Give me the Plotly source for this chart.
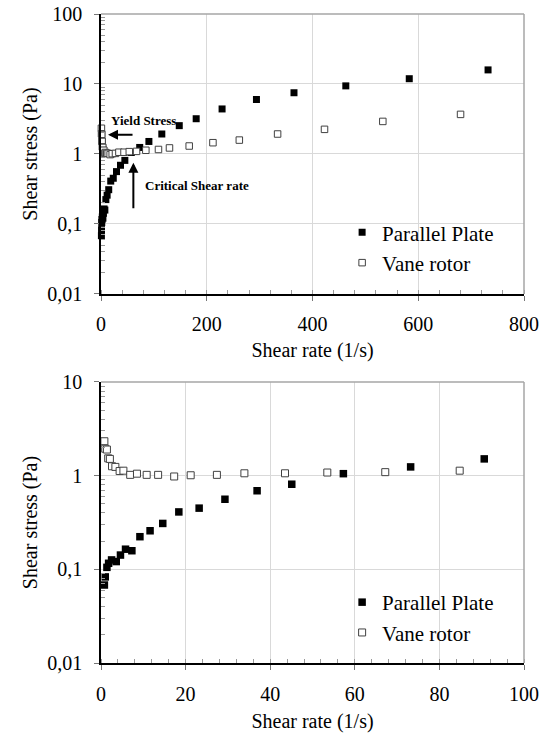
import math
import plotly.graph_objects as go

# ---- data ----
pp_rate = [0.8, 1.0, 1.4, 1.8, 2.5, 3.6, 4.6, 5.8, 7.3, 9.2, 11.6, 14.6, 18.4, 23.2, 29.3,
           36.9, 45.1, 57.3, 73.2, 90.6, 115, 148, 180, 229, 294, 365, 463, 583, 732]
pp_stress = [0.068, 0.083, 0.105, 0.116, 0.126, 0.121, 0.142, 0.164, 0.158, 0.223, 0.258,
             0.309, 0.41, 0.45, 0.56, 0.69, 0.81, 1.05, 1.24, 1.51, 1.93, 2.54, 3.19, 4.4,
             6.0, 7.5, 9.4, 11.9, 15.9]
vane_rate = [0.8, 1.0, 1.4, 1.7, 2.1, 2.6, 3.4, 4.4, 5.3, 6.9, 8.5, 10.8, 13.5, 17.3, 21.2,
             27.4, 33.9, 43.5, 53.5, 67.2, 84.8, 108.7, 129.5, 166.8, 211.7, 261.6, 334,
             422.7, 533, 680]
vane_stress = [2.33, 1.94, 1.90, 1.53, 1.51, 1.26, 1.24, 1.12, 1.13, 1.02, 1.05, 1.02, 1.02,
               0.98, 1.01, 1.02, 1.06, 1.06, 1.08, 1.09, 1.13, 1.16, 1.22, 1.30, 1.45, 1.58,
               1.93, 2.25, 2.92, 3.68]

top_y_ticks = [0.01, 0.1, 1, 10, 100]
top_y_text = ["0,01", "0,1", "1", "10", "100"]
bot_y_ticks = [0.01, 0.1, 1, 10]
bot_y_text = ["0,01", "0,1", "1", "10"]
minor_log = [m * 10 ** e for e in range(-2, 2) for m in range(2, 10)]

FONT = "Liberation Serif"

fig = go.Figure()

for (xa, ya, leg, sf, so) in [("x", "y", "legend", 7, 6.5), ("x2", "y2", "legend2", 7.5, 7)]:
    fig.add_trace(go.Scatter(
        x=pp_rate, y=pp_stress, mode="markers", name="Parallel Plate",
        xaxis=xa, yaxis=ya, legend=leg, legendgroup=leg + "a", cliponaxis=False,
        marker=dict(symbol="square", size=sf, color="black", line=dict(width=0))))
    fig.add_trace(go.Scatter(
        x=vane_rate, y=vane_stress, mode="markers", name="Vane rotor",
        xaxis=xa, yaxis=ya, legend=leg, legendgroup=leg + "b", cliponaxis=False,
        marker=dict(symbol="square", size=so, color="white", line=dict(width=1, color="#404040"))))

axis_common = dict(
    showline=True, linecolor="black", linewidth=1.5, mirror=False, automargin=False,
    showgrid=True, gridcolor="#d9d9d9", gridwidth=1, zeroline=False,
    ticks="outside", ticklen=5, tickcolor="#777", tickwidth=1,
    ticklabeloverflow="allow",
    tickfont=dict(family=FONT, size=20, color="black"),
)
title_font = dict(family=FONT, size=20, color="black")

TOP_DOM = [0.5686, 1.0]
BOT_DOM = [0.0, 0.433]

fig.update_layout(
    width=547, height=734,
    margin=dict(l=101, r=23, t=14, b=71),
    paper_bgcolor="white", plot_bgcolor="white",
    font=dict(family=FONT, size=20, color="black"),
    showlegend=True,
    xaxis=dict(axis_common, domain=[0, 1], anchor="y", range=[0, 800], dtick=200,
               minor=dict(ticks="inside", ticklen=4, tickcolor="#999", dtick=40, showgrid=False),
               title=dict(text="Shear rate (1/s)", standoff=9, font=title_font),
               ticklabelstandoff=6),
    yaxis=dict(axis_common, domain=TOP_DOM, anchor="x", type="log", range=[-2, 2],
               tickmode="array", tickvals=top_y_ticks, ticktext=top_y_text,
               minor=dict(ticks="inside", ticklen=4, tickcolor="#999", tickmode="array",
                          tickvals=minor_log, showgrid=False),
               title=dict(text="Shear stress (Pa)", standoff=4, font=title_font),
               ticklabelstandoff=8),
    xaxis2=dict(axis_common, domain=[0, 1], anchor="y2", range=[0, 100], dtick=20,
                minor=dict(ticks="inside", ticklen=4, tickcolor="#999", dtick=4, showgrid=False),
                title=dict(text="Shear rate (1/s)", standoff=10, font=title_font),
                ticklabelstandoff=7),
    yaxis2=dict(axis_common, domain=BOT_DOM, anchor="x2", type="log", range=[-2, 1],
                tickmode="array", tickvals=bot_y_ticks, ticktext=bot_y_text,
                minor=dict(ticks="inside", ticklen=4, tickcolor="#999", tickmode="array",
                           tickvals=minor_log, showgrid=False),
                title=dict(text="Shear stress (Pa)", standoff=4, font=title_font),
                ticklabelstandoff=8),
    legend=dict(x=0.57, y=0.6946, xanchor="left", yanchor="top", bgcolor="rgba(0,0,0,0)",
                font=dict(family=FONT, size=21, color="black"), tracegroupgap=0,
                traceorder="grouped"),
    legend2=dict(x=0.57, y=0.1248, xanchor="left", yanchor="top", bgcolor="rgba(0,0,0,0)",
                 font=dict(family=FONT, size=21, color="black"), tracegroupgap=0,
                 traceorder="grouped"),
)

# gray top/right borders
for xr, yr in [("x domain", "y domain"), ("x2 domain", "y2 domain")]:
    fig.add_shape(type="line", xref=xr, yref=yr, x0=0, x1=1, y0=1, y1=1,
                  line=dict(color="#a6a6a6", width=1.5))
    fig.add_shape(type="line", xref=xr, yref=yr, x0=1, x1=1, y0=0, y1=1,
                  line=dict(color="#a6a6a6", width=1.5))

L = math.log10
ann_font = dict(family=FONT, size=13, color="black")
fig.add_annotation(x=80, y=L(3.02), xref="x", yref="y", text="<b>Yield Stress</b>",
                   showarrow=False, font=ann_font, xanchor="center", yanchor="middle")
fig.add_annotation(x=13.3, y=L(1.89), xref="x", yref="y", text="", showarrow=True,
                   ax=26, ay=0, arrowhead=2, arrowsize=1, arrowwidth=2, arrowcolor="black")
fig.add_annotation(x=181, y=L(0.352), xref="x", yref="y", text="<b>Critical Shear rate</b>",
                   showarrow=False, font=ann_font, xanchor="center", yanchor="middle")
fig.add_annotation(x=61.2, y=L(0.751), xref="x", yref="y", text="", showarrow=True,
                   ax=0, ay=47, arrowhead=2, arrowsize=1, arrowwidth=2, arrowcolor="black")

fig.write_html("out.html", config={"displayModeBar": False},
               post_script="document.body.style.margin='0';document.body.style.overflow='hidden';")
